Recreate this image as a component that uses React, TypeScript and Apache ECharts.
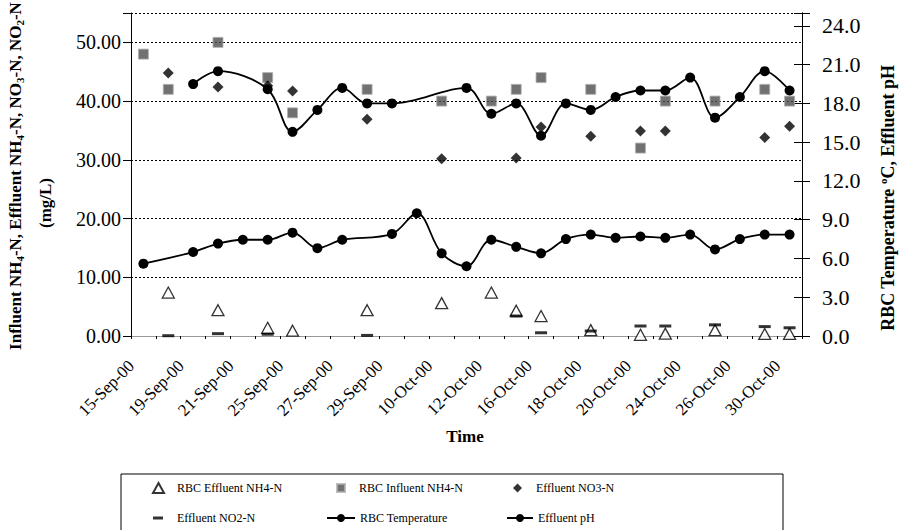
import React, { useEffect, useRef } from 'react';
import * as echarts from 'echarts';

const dates = [
  '15-Sep-00', '18-Sep-00', '19-Sep-00', '20-Sep-00', '21-Sep-00', '22-Sep-00', '25-Sep-00',
  '26-Sep-00', '27-Sep-00', '28-Sep-00', '29-Sep-00', '3-Oct-00', '10-Oct-00', '11-Oct-00',
  '12-Oct-00', '13-Oct-00', '16-Oct-00', '17-Oct-00', '18-Oct-00', '19-Oct-00', '20-Oct-00',
  '23-Oct-00', '24-Oct-00', '25-Oct-00', '26-Oct-00', '27-Oct-00', '30-Oct-00',
];

const effluentNH4 = [null, 7.4, null, 4.4, null, 1.4, 0.9, null, null, 4.4, null, null, 5.6, null,
  7.4, 4.3, 3.4, null, 1.0, null, 0.2, 0.4, null, 1.0, null, 0.35, 0.35];

const influentNH4 = [48, 42, null, 50, null, 44, 38, null, null, 42, null, null, 40, null,
  40, 42, 44, null, 42, null, 32, 40, null, 40, null, 42, 40];

const effluentNO3 = [null, 44.8, null, 42.4, null, 42.6, 41.7, null, null, 36.9, null, null, 30.2, null,
  null, 30.3, 35.6, null, 34.0, null, 34.9, 34.9, null, null, null, 33.8, 35.7];

const effluentNO2 = [null, 0.05, null, 0.4, null, 0.3, null, null, null, 0.1, null, null, null, null,
  null, 3.4, 0.55, null, 0.85, null, 1.7, 1.7, null, 1.9, null, 1.6, 1.4];

const rbcTemperature = [null, null, 19.5, 20.5, null, 19.1, 15.8, 17.5, 19.2, 18.0, 18.0, null, null, 19.2,
  17.2, 18.0, 15.5, 18.0, 17.5, 18.5, 19.0, 19.0, 20.0, 16.9, 18.5, 20.5, 19.0];

const effluentPH = [5.6, null, 6.5, 7.15, 7.45, 7.45, 8.0, 6.8, 7.45, null, 7.9, 9.5, 6.4, 5.4,
  7.45, 6.9, 6.4, 7.5, 7.85, 7.6, 7.7, 7.6, 7.85, 6.7, 7.5, 7.85, 7.85];

const SERIF = 'Liberation Serif, Times New Roman, serif';

export default function App() {
  const ref = useRef<HTMLDivElement>(null);

  useEffect(() => {
    if (!ref.current) return;
    const chart = echarts.init(ref.current, null, { renderer: 'svg' });

    const legendText = (pad: number) => ({
      fontFamily: SERIF,
      fontSize: 12,
      color: '#000',
      padding: [0, 0, 0, pad],
    });

    const rightAxisBase = {
      type: 'value',
      min: 0,
      max: 25,
      interval: 3,
      position: 'right',
      axisLine: { show: true, lineStyle: { color: '#000', width: 1 } },
      splitLine: { show: false },
    };

    chart.setOption({
      animation: false,
      backgroundColor: '#fff',
      textStyle: { fontFamily: SERIF },
      grid: { left: 131, right: 97, top: 13, bottom: 194, containLabel: false },
      xAxis: [
        {
          type: 'category',
          data: dates,
          boundaryGap: true,
          position: 'bottom',
          axisLine: { show: true, lineStyle: { color: '#000', type: [2, 2], width: 1 } },
          axisTick: { show: true, interval: 0, length: 3, lineStyle: { color: '#000' } },
          axisLabel: {
            interval: 1,
            rotate: 45,
            fontFamily: SERIF,
            fontSize: 17,
            color: '#000',
            margin: 15,
            padding: [0, 17, 0, 0],
          },
        },
        {
          type: 'category',
          data: dates,
          position: 'top',
          axisLine: { show: true, lineStyle: { color: '#999', width: 1 } },
          axisTick: { show: false },
          axisLabel: { show: false },
        },
      ],
      yAxis: [
        {
          type: 'value',
          min: 0,
          max: 55,
          interval: 10,
          position: 'left',
          axisLine: { show: true, lineStyle: { color: '#000', width: 1 } },
          axisTick: { show: true, length: 8, lineStyle: { color: '#000' } },
          axisLabel: {
            fontFamily: SERIF,
            fontSize: 20,
            color: '#000',
            margin: 10,
            formatter: (v: number) => (v > 50 ? '' : v.toFixed(2)),
          },
          splitLine: { show: true, lineStyle: { color: '#000', type: [2, 2], width: 1 } },
        },
        {
          ...rightAxisBase,
          axisTick: { show: true, length: 8, lineStyle: { color: '#000' } },
          axisLabel: {
            fontFamily: SERIF,
            fontSize: 22,
            color: '#000',
            margin: 20,
            formatter: (v: number) => (v > 24 ? '' : v.toFixed(1)),
          },
        },
        {
          ...rightAxisBase,
          axisTick: { show: true, inside: true, length: 8, lineStyle: { color: '#000' } },
          axisLabel: { show: false },
        },
      ],
      legend: [
        { data: ['RBC Effluent NH4-N'], left: 152, top: 482, itemWidth: 11, itemHeight: 10, padding: 0, textStyle: legendText(8) },
        { data: ['RBC Influent NH4-N'], left: 336, top: 482, itemWidth: 8, itemHeight: 8, padding: 0, textStyle: legendText(9) },
        { data: ['Effluent NO3-N'], left: 513, top: 482, itemWidth: 9, itemHeight: 9, padding: 0, textStyle: legendText(9) },
        { data: ['Effluent NO2-N'], left: 153, top: 512, itemWidth: 10, itemHeight: 3, padding: 0, textStyle: legendText(9) },
        { data: ['RBC Temperature'], left: 326, top: 512, itemWidth: 28, itemHeight: 10, padding: 0, textStyle: legendText(0) },
        { data: ['Effluent pH'], left: 506, top: 512, itemWidth: 26, itemHeight: 10, padding: 0, textStyle: legendText(0) },
      ],
      graphic: [
        {
          type: 'text',
          x: 15,
          y: 176,
          rotation: Math.PI / 2,
          style: {
            text: '{b|Influent NH}{s|4}{b|-N, Effluent NH}{s|4}{b|-N, NO}{s|3}{b|-N, NO}{s|2}{b|-N}',
            align: 'center',
            verticalAlign: 'middle',
            fill: '#000',
            rich: {
              b: { fontFamily: SERIF, fontSize: 17, fontWeight: 'bold', fill: '#000', lineHeight: 20 },
              s: { fontFamily: SERIF, fontSize: 11, fontWeight: 'bold', fill: '#000', lineHeight: 11, verticalAlign: 'bottom' },
            },
          },
        },
        {
          type: 'text',
          x: 45,
          y: 203,
          rotation: Math.PI / 2,
          style: {
            text: '(mg/L)',
            align: 'center',
            verticalAlign: 'middle',
            fill: '#000',
            font: `bold 17px ${SERIF}`,
          },
        },
        {
          type: 'text',
          x: 888,
          y: 198,
          rotation: Math.PI / 2,
          style: {
            text: '{b|RBC Temperature }{p|o}{b|C, Effluent pH}',
            align: 'center',
            verticalAlign: 'middle',
            fill: '#000',
            rich: {
              b: { fontFamily: SERIF, fontSize: 18, fontWeight: 'bold', fill: '#000', lineHeight: 22 },
              p: { fontFamily: SERIF, fontSize: 11, fontWeight: 'bold', fill: '#000', lineHeight: 11, verticalAlign: 'top' },
            },
          },
        },
        {
          type: 'text',
          x: 465,
          y: 436,
          style: {
            text: 'Time',
            align: 'center',
            verticalAlign: 'middle',
            fill: '#000',
            font: `bold 17px ${SERIF}`,
          },
        },
        {
          type: 'rect',
          shape: { x: 121, y: 474, width: 662, height: 70 },
          style: { fill: 'none', stroke: '#000', lineWidth: 1 },
        },
      ],
      series: [
        {
          name: 'RBC Effluent NH4-N',
          type: 'scatter',
          yAxisIndex: 0,
          data: effluentNH4,
          symbol: 'triangle',
          symbolSize: [12, 11],
          itemStyle: { color: '#fff', borderColor: '#000', borderWidth: 1.3 },
          z: 2,
        },
        {
          name: 'RBC Influent NH4-N',
          type: 'scatter',
          yAxisIndex: 0,
          data: influentNH4,
          symbol: 'rect',
          symbolSize: 10,
          itemStyle: { color: '#4d4d4d', borderColor: '#b0b0b0', borderWidth: 1 },
          z: 2,
        },
        {
          name: 'Effluent NO3-N',
          type: 'scatter',
          yAxisIndex: 0,
          data: effluentNO3,
          symbol: 'diamond',
          symbolSize: 11,
          itemStyle: { color: '#000' },
          z: 2,
        },
        {
          name: 'Effluent NO2-N',
          type: 'scatter',
          yAxisIndex: 0,
          data: effluentNO2,
          symbol: 'rect',
          symbolSize: [12, 3],
          itemStyle: { color: '#000' },
          z: 3,
        },
        {
          name: 'RBC Temperature',
          type: 'line',
          yAxisIndex: 1,
          data: rbcTemperature,
          connectNulls: true,
          smooth: 0.35,
          symbol: 'circle',
          symbolSize: 10,
          showAllSymbol: true,
          lineStyle: { color: '#000', width: 1.8 },
          itemStyle: { color: '#000' },
          z: 4,
        },
        {
          name: 'Effluent pH',
          type: 'line',
          yAxisIndex: 1,
          data: effluentPH,
          connectNulls: true,
          smooth: 0.35,
          symbol: 'circle',
          symbolSize: 10,
          showAllSymbol: true,
          lineStyle: { color: '#000', width: 1.8 },
          itemStyle: { color: '#000' },
          z: 4,
        },
      ],
    });

    return () => chart.dispose();
  }, []);

  return (
    <div
      ref={ref}
      style={{ position: 'fixed', left: 0, top: 0, width: 899, height: 530, background: '#fff' }}
    />
  );
}
